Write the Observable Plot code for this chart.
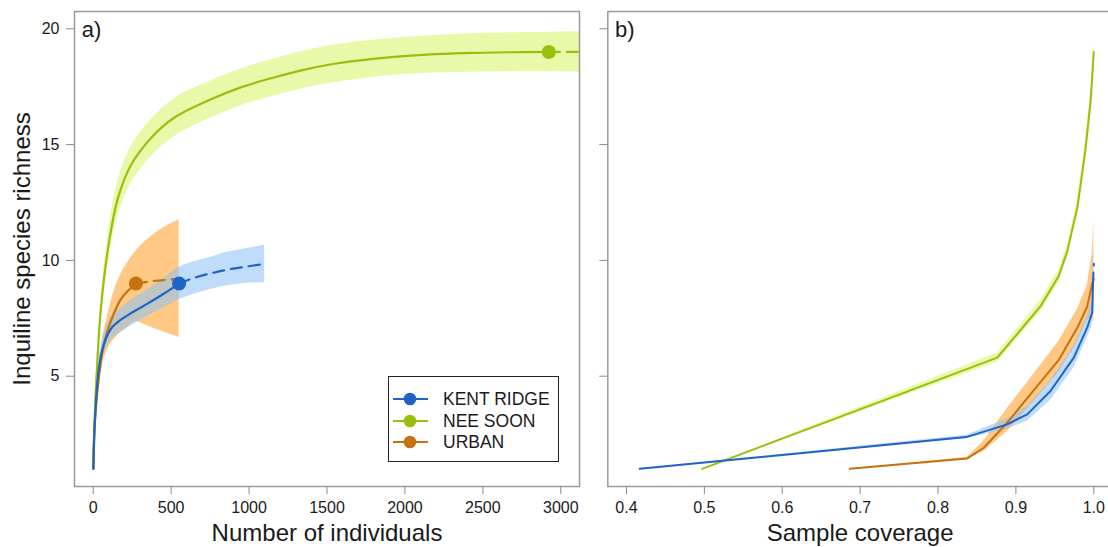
<!DOCTYPE html>
<html><head><meta charset="utf-8">
<script src="https://cdn.jsdelivr.net/npm/d3@7"></script>
<script src="https://cdn.jsdelivr.net/npm/@observablehq/plot@0.6"></script>
<style>
html,body{margin:0;padding:0;background:#fff;overflow:hidden;width:1108px;height:547px;}
#wrap{position:relative;width:1108px;height:547px;overflow:hidden;font-family:"Liberation Sans",Arial,sans-serif;}
.panel{position:absolute;top:0;height:547px;}
.panel svg{max-width:none !important;}
.legend{position:absolute;left:388px;top:376px;width:171px;height:86px;border:1px solid #222;background:#fff;box-sizing:border-box;}
.legend .row{position:absolute;left:0;height:22px;width:170px;}
.legend svg{position:absolute;left:3px;top:0;}
.legend span{position:absolute;left:54px;top:1px;font-size:17.5px;color:#1a1a1a;line-height:20px;}
</style></head><body><div id="wrap"></div>
<script>
// ---------- data ----------
const siteNames = ["KENT RIDGE", "NEE SOON", "URBAN"];
const lineColors = ["#1F63C7", "#98BF0C", "#C5720F"];
const bandColors = ["#8BC1F8", "#D5F664", "#FF9D21"];

// a) size-based rarefaction (individuals -> richness)
const kentN   = [1, 10, 28, 50, 80, 120, 180, 250, 340, 450, 551];
const kentS   = [1, 2.9, 4.8, 5.9, 6.6, 7.1, 7.45, 7.75, 8.1, 8.55, 9.0];
const kentLo  = [1, 2.8, 4.5, 5.5, 6.15, 6.6, 6.9, 7.2, 7.55, 7.95, 8.3];
const kentHi  = [1, 3.0, 5.1, 6.3, 7.05, 7.6, 7.95, 8.3, 8.7, 9.2, 9.7];
const kentExtN  = [551, 650, 760, 860, 980, 1100];
const kentExtS  = [9.0, 9.25, 9.45, 9.6, 9.73, 9.85];
const kentExtLo = [8.3, 8.55, 8.75, 8.9, 9.0, 9.05];
const kentExtHi = [9.7, 9.95, 10.15, 10.35, 10.5, 10.65];

const neeN  = [1, 6, 24, 49, 103, 160, 246, 374, 524, 737, 951, 1165, 1378, 1549, 1951, 2378, 2923];
const neeS  = [1, 2.6, 5.3, 7.9, 10.85, 12.72, 14.16, 15.31, 16.18, 16.9, 17.48, 17.91, 18.27, 18.49, 18.8, 18.95, 19.0];
const neeLo = [1, 2.5, 5.05, 7.45, 10.2, 11.97, 13.36, 14.5, 15.36, 16.1, 16.68, 17.11, 17.47, 17.68, 18.0, 18.12, 18.15];
const neeHi = [1, 2.7, 5.6, 8.35, 11.5, 13.47, 14.96, 16.1, 17.0, 17.7, 18.28, 18.71, 19.07, 19.3, 19.6, 19.78, 19.85];
const neeExtN  = [2923, 3050, 3200];
const neeExtS  = [19.0, 19.0, 19.0];
const neeExtLo = [18.15, 18.13, 18.12];
const neeExtHi = [19.85, 19.87, 19.88];

const urbN  = [1, 10, 39, 60, 92, 135, 178, 225, 274];
const urbS  = [1, 3.0, 5.08, 6.09, 6.96, 7.75, 8.33, 8.7, 9.0];
const urbLo = [1, 2.8, 4.7, 5.5, 6.15, 6.6, 6.9, 7.15, 7.36];
const urbHi = [1, 3.2, 5.5, 6.6, 7.6, 8.7, 9.4, 9.95, 10.4];
const urbExtN  = [274, 349, 450, 551];
const urbExtS  = [9.0, 9.08, 9.15, 9.2];
const urbExtLo = [7.36, 7.17, 6.92, 6.67];
const urbExtHi = [10.4, 10.9, 11.4, 11.76];

// b) coverage-based curves (sample coverage -> richness)
const kentC   = [0.417, 0.8362, 0.8888, 0.9145, 0.9444, 0.9743, 0.9915, 0.998, 0.999];
const kentCS  = [1, 2.37, 2.92, 3.35, 4.36, 5.8, 7.1, 7.75, 9.0];
const kentCLo = [1, 2.3, 2.72, 3.05, 3.95, 5.35, 6.65, 7.2, 8.3];
const kentCHi = [1, 2.45, 3.15, 3.7, 4.8, 6.3, 7.6, 8.3, 9.7];
const kentCExt   = [0.999, 1.0];
const kentCExtS  = [9.0, 9.85];
const kentCExtLo = [8.3, 9.05];
const kentCExtHi = [9.7, 10.65];

const neeC   = [0.4972, 0.876, 0.932, 0.955, 0.966, 0.979, 0.989, 0.996, 1.0];
const neeCS  = [1, 5.8, 8.04, 9.33, 10.4, 12.3, 14.7, 16.9, 19.0];
const neeCLo = [1, 5.6, 7.8, 9.05, 10.1, 11.95, 14.3, 16.4, 18.5];
const neeCHi = [1, 6.0, 8.3, 9.6, 10.7, 12.65, 15.1, 17.4, 19.5];

const urbC   = [0.6867, 0.8375, 0.8588, 0.8888, 0.923, 0.955, 0.979, 0.9915, 0.998];
const urbCS  = [1, 1.45, 1.91, 2.99, 4.4, 5.7, 7.1, 8.0, 9.0];
const urbCLo = [1, 1.4, 1.75, 2.6, 3.9, 5.15, 6.45, 7.4, 7.5];
const urbCHi = [1, 1.5, 2.2, 3.6, 5.1, 6.5, 7.9, 8.9, 10.3];
const urbCExt   = [0.998, 1.0];
const urbCExtS  = [9.0, 9.2];
const urbCExtLo = [7.5, 7.3];
const urbCExtHi = [10.3, 11.76];

const xTicksA = [0, 500, 1000, 1500, 2000, 2500, 3000];
const xTicksB = [0.4, 0.5, 0.6, 0.7, 0.8, 0.9, 1.0];
const yTicks = [5, 10, 15, 20];

// ---------- helpers ----------
const rows = (xs, ys, lo, hi) => xs.map((x, i) => ({x, y: ys[i], lo: lo[i], hi: hi[i]}));
const band = (a, b) => a.concat(b.slice(1));
const font = '"Liberation Sans", Arial, sans-serif';
const axisStroke = "#8a8a8a";
const txt = "#1a1a1a";

const kR = rows(kentN, kentS, kentLo, kentHi), kE = rows(kentExtN, kentExtS, kentExtLo, kentExtHi);
const nR = rows(neeN, neeS, neeLo, neeHi), nE = rows(neeExtN, neeExtS, neeExtLo, neeExtHi);
const uR = rows(urbN, urbS, urbLo, urbHi), uE = rows(urbExtN, urbExtS, urbExtLo, urbExtHi);
const obs = [
  {x: kentN[kentN.length-1], y: kentS[kentS.length-1], c: lineColors[0]},
  {x: neeN[neeN.length-1], y: neeS[neeS.length-1], c: lineColors[1]},
  {x: urbN[urbN.length-1], y: urbS[urbS.length-1], c: lineColors[2]}
];

const kCR = rows(kentC, kentCS, kentCLo, kentCHi), kCE = rows(kentCExt, kentCExtS, kentCExtLo, kentCExtHi);
const nCR = rows(neeC, neeCS, neeCLo, neeCHi);
const uCR = rows(urbC, urbCS, urbCLo, urbCHi), uCE = rows(urbCExt, urbCExtS, urbCExtLo, urbCExtHi);

const yDomain = [0.237, 20.747];
const dash = "11,7";
const smooth = "catmull-rom";

function axes(xTicks, fmt, showYLabels) {
  return [
    Plot.frame({stroke: "#9a9a9a", strokeWidth: 1.5}),
    Plot.axisX({ticks: xTicks, tickSize: 8, tickPadding: 7, stroke: axisStroke, fill: txt, label: null, fontSize: 16, tickFormat: fmt}),
    Plot.axisY({ticks: yTicks, tickSize: 8, tickPadding: 7, stroke: axisStroke, fill: txt, label: null, fontSize: 16,
      tickFormat: showYLabels ? (d => String(d)) : (() => "")})
  ];
}

// ---------- panel a ----------
const plotA = Plot.plot({
  width: 590, height: 547,
  marginLeft: 74, marginRight: 11, marginTop: 11, marginBottom: 61,
  x: {domain: [-120, 3120]},
  y: {domain: yDomain},
  style: {fontFamily: font, fontSize: "16px", color: txt, background: "transparent", overflow: "visible"},
  marks: [
    Plot.areaY(band(nR, nE), {x: "x", y1: "lo", y2: "hi", fill: bandColors[1], fillOpacity: 0.55, curve: smooth, clip: true}),
    Plot.areaY(band(uR, uE), {x: "x", y1: "lo", y2: "hi", fill: bandColors[2], fillOpacity: 0.55, curve: "monotone-x", clip: true}),
    Plot.areaY(band(kR, kE), {x: "x", y1: "lo", y2: "hi", fill: bandColors[0], fillOpacity: 0.55, curve: smooth, clip: true}),
    Plot.line(nR, {x: "x", y: "y", stroke: lineColors[1], strokeWidth: 2.2, curve: smooth, clip: true}),
    Plot.line(nE, {x: "x", y: "y", stroke: lineColors[1], strokeWidth: 2.2, strokeDasharray: dash, curve: smooth, clip: true}),
    Plot.line(uR, {x: "x", y: "y", stroke: lineColors[2], strokeWidth: 2.2, curve: smooth, clip: true}),
    Plot.line(uE, {x: "x", y: "y", stroke: lineColors[2], strokeWidth: 2.2, strokeDasharray: dash, curve: smooth, clip: true}),
    Plot.line(kR, {x: "x", y: "y", stroke: lineColors[0], strokeWidth: 2.2, curve: smooth, clip: true}),
    Plot.line(kE, {x: "x", y: "y", stroke: lineColors[0], strokeWidth: 2.2, strokeDasharray: dash, curve: smooth, clip: true}),
    Plot.dot([obs[1], obs[2], obs[0]], {x: "x", y: "y", r: 7, fill: "c", stroke: null}),
    ...axes(xTicksA, d => String(d), true),
    Plot.text(["a)"], {frameAnchor: "top-left", dx: 7.3, dy: 25.7, textAnchor: "start", lineAnchor: "bottom", fontSize: 22, fill: txt}),
    Plot.text(["Number of individuals"], {frameAnchor: "bottom", dy: 54, textAnchor: "middle", lineAnchor: "bottom", fontSize: 24, fill: txt}),
    Plot.text(["Inquiline species richness"], {frameAnchor: "left", dx: -44.7, rotate: -90, textAnchor: "middle", lineAnchor: "bottom", fontSize: 24, fill: txt})
  ]
});

// ---------- panel b ----------
const plotB = Plot.plot({
  width: 522, height: 547,
  marginLeft: 17.3, marginRight: 0, marginTop: 11, marginBottom: 61,
  x: {domain: [0.376, 1.024]},
  y: {domain: yDomain},
  style: {fontFamily: font, fontSize: "16px", color: txt, background: "transparent", overflow: "visible", maxWidth: "none"},
  marks: [
    Plot.areaY(nCR, {x: "x", y1: "lo", y2: "hi", fill: bandColors[1], fillOpacity: 0.55}),
    Plot.areaY(band(uCR, uCE), {x: "x", y1: "lo", y2: "hi", fill: bandColors[2], fillOpacity: 0.55}),
    Plot.areaY(band(kCR, kCE), {x: "x", y1: "lo", y2: "hi", fill: bandColors[0], fillOpacity: 0.55}),
    Plot.line(nCR, {x: "x", y: "y", stroke: lineColors[1], strokeWidth: 2}),
    Plot.line(uCR, {x: "x", y: "y", stroke: lineColors[2], strokeWidth: 2}),
    Plot.line(uCE, {x: "x", y: "y", stroke: lineColors[2], strokeWidth: 2, strokeDasharray: dash}),
    Plot.line(kCR, {x: "x", y: "y", stroke: lineColors[0], strokeWidth: 2}),
    Plot.line(kCE, {x: "x", y: "y", stroke: lineColors[0], strokeWidth: 2, strokeDasharray: dash}),
    ...axes(xTicksB, d3.format(".1f"), false),
    Plot.text(["b)"], {frameAnchor: "top-left", dx: 7.3, dy: 25.7, textAnchor: "start", lineAnchor: "bottom", fontSize: 22, fill: txt}),
    Plot.text(["Sample coverage"], {frameAnchor: "bottom", dy: 54, textAnchor: "middle", lineAnchor: "bottom", fontSize: 24, fill: txt})
  ]
});

const wrap = document.getElementById("wrap");
const pa = document.createElement("div"); pa.className = "panel"; pa.style.left = "0px"; pa.style.width = "590px"; pa.appendChild(plotA);
const pb = document.createElement("div"); pb.className = "panel"; pb.style.left = "590px"; pb.style.width = "522px"; pb.appendChild(plotB);
wrap.appendChild(pa); wrap.appendChild(pb);

// ---------- legend ----------
const lg = document.createElement("div"); lg.className = "legend";
const rowTops = [10.6, 33.3, 54.3];
siteNames.forEach((name, i) => {
  const r = document.createElement("div"); r.className = "row"; r.style.top = rowTops[i] + "px";
  const ns = "http://www.w3.org/2000/svg";
  const svg = document.createElementNS(ns, "svg");
  svg.setAttribute("width", "40"); svg.setAttribute("height", "22");
  const ln = document.createElementNS(ns, "line");
  ln.setAttribute("x1", "1"); ln.setAttribute("x2", "36"); ln.setAttribute("y1", "11"); ln.setAttribute("y2", "11");
  ln.setAttribute("stroke", lineColors[i]); ln.setAttribute("stroke-width", "2.2");
  const c = document.createElementNS(ns, "circle");
  c.setAttribute("cx", "18"); c.setAttribute("cy", "11"); c.setAttribute("r", "6.3"); c.setAttribute("fill", lineColors[i]);
  svg.appendChild(ln); svg.appendChild(c);
  const s = document.createElement("span"); s.textContent = name;
  r.appendChild(svg); r.appendChild(s); lg.appendChild(r);
});
wrap.appendChild(lg);
</script></body></html>
